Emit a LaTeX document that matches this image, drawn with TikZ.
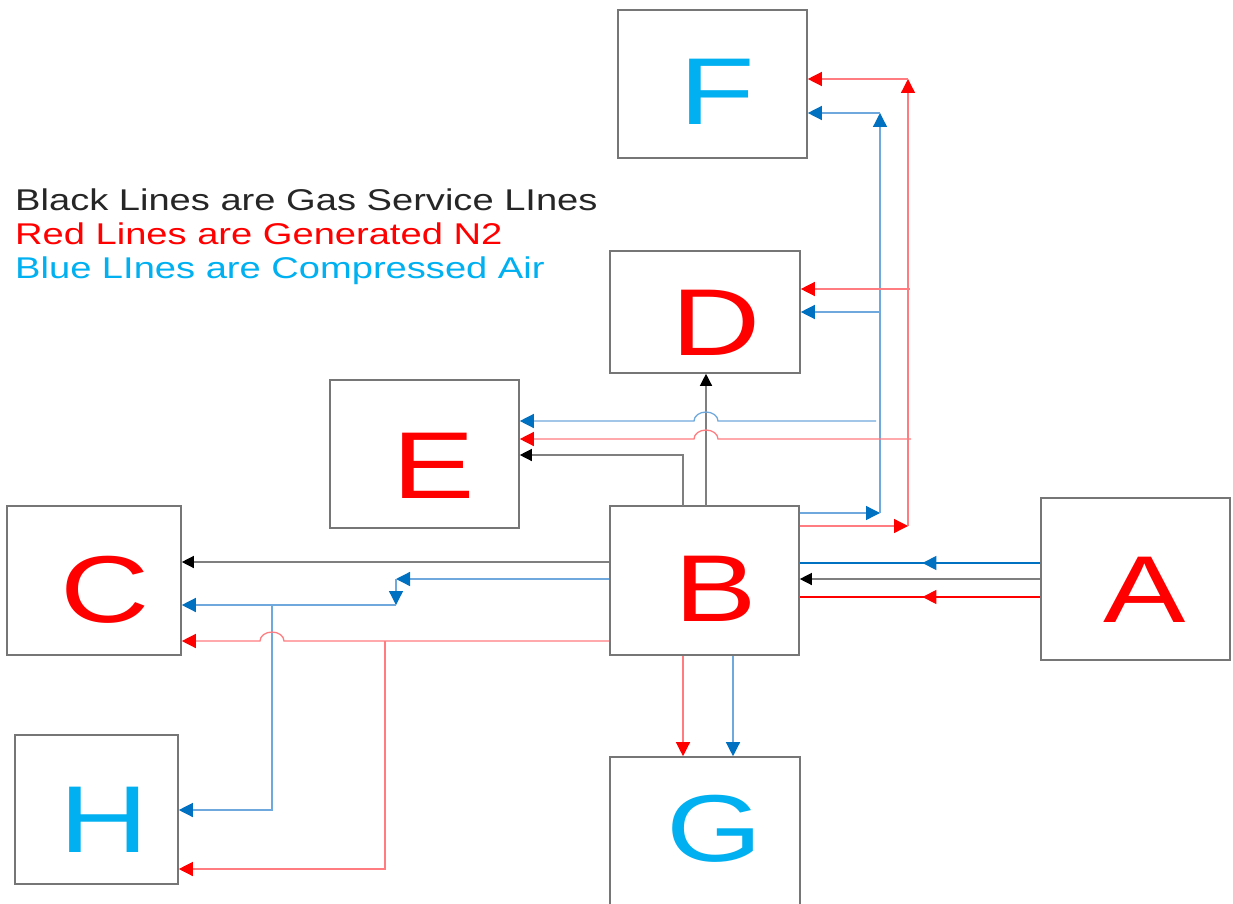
\documentclass[tikz,border=0pt]{standalone}
\usepackage{fontspec}
\setmainfont{Liberation Sans}
\newfontfamily\legfont[FakeStretch=1.27]{Liberation Sans}
\newfontfamily\letfont[FakeStretch=1.3]{Liberation Sans}
\usetikzlibrary{arrows.meta,decorations.markings,calc}
\definecolor{bxgray}{HTML}{767676}
\definecolor{redln}{HTML}{FF7C80}
\definecolor{redar}{HTML}{FF0000}
\definecolor{blueln}{HTML}{6FA8DC}
\definecolor{bluear}{HTML}{0070C0}
\definecolor{txtblue}{HTML}{00B0F0}
\definecolor{txtred}{HTML}{FF0000}
\definecolor{txtdark}{HTML}{262626}
\definecolor{grayln}{HTML}{7F7F7F}
\begin{document}
\begin{tikzpicture}[x=1pt,y=-1pt,
  box/.style={draw=bxgray,line width=1.6pt,rectangle,inner sep=0pt},
  lett/.style={anchor=base,inner sep=0pt,font=\letfont\fontsize{95}{95}\selectfont},
  redlet/.style={lett,text=txtred},
  bluelet/.style={lett,text=txtblue},
  leg/.style={anchor=base west,inner sep=0pt,font=\legfont\fontsize{30}{30}\selectfont},
  redc/.style={draw=redln,line width=1.3pt,-{Triangle[length=14pt,width=14pt,color=redar]}},
  bluec/.style={draw=blueln,line width=1.3pt,-{Triangle[length=14pt,width=14pt,color=bluear]}},
  blkc/.style={draw=grayln,line width=1.3pt,-{Triangle[length=12pt,width=12pt,color=black]}},
  midred/.style={draw=redar,line width=1.3pt,decoration={markings,mark=at position 0.49 with {\arrow{Triangle[length=14pt,width=14pt,color=redar]}}},postaction={decorate}},
  midblue/.style={draw=bluear,line width=1.3pt,decoration={markings,mark=at position 0.49 with {\arrow{Triangle[length=14pt,width=14pt,color=bluear]}}},postaction={decorate}}
]
\useasboundingbox (0,0) rectangle (1233,904);
\fill[white] (0,0) rectangle (1233,904);

% boxes
\node[box,minimum width=189pt,minimum height=148pt] (F) at (712.5,84) {};
\node[box,minimum width=190pt,minimum height=122pt] (D) at (705,312) {};
\node[box,minimum width=189pt,minimum height=148pt] (E) at (424.5,454) {};
\node[box,minimum width=174pt,minimum height=149pt] (C) at (94,580.5) {};
\node[box,minimum width=189pt,minimum height=149pt] (B) at (704.5,580.5) {};
\node[box,minimum width=189pt,minimum height=162pt] (A) at (1135.5,579) {};
\node[box,minimum width=163pt,minimum height=149pt] (H) at (96.5,809.5) {};
\node[box,minimum width=190pt,minimum height=170pt] (G) at (705,842) {};

% letters
\node[bluelet] (Flab) at ($(F.center)+(5,41)$) {F};
\node[redlet] (Dlab) at ($(D.center)+(11,43)$) {D};
\node[redlet] (Elab) at ($(E.center)+(9,44)$) {E};
\node[redlet] (Clab) at ($(C.center)+(11,41.5)$) {C};
\node[redlet] (Blab) at ($(B.center)+(11.5,40.5)$) {B};
\node[redlet] (Alab) at ($(A.center)+(9.5,43)$) {A};
\node[bluelet] (Hlab) at ($(H.center)+(7.5,42.5)$) {H};
\node[bluelet] (Glab) at ($(G.center)+(9.5,19)$) {G};

% legend
\node[leg,text=txtdark] (L1) at (15,210) {Black Lines are Gas Service LInes};
\node[leg,text=txtred] (L2) at (15,244) {Red Lines are Generated N2};
\node[leg,text=txtblue] (L3) at (15,278) {Blue LInes are Compressed Air};

% helper coordinates
\coordinate (bd) at (706,506);   % black B->D
\coordinate (be) at (683,506);   % black B->E
\coordinate (beC) at (683,455);
\coordinate (yAblu) at (0,563);
\coordinate (yAblk) at (0,579);
\coordinate (yAred) at (0,597);
\coordinate (yBC) at (0,562);
\coordinate (bR) at (880,513);
\coordinate (bT) at (880,113);
\coordinate (bD) at (880,312);
\coordinate (bE) at (876,421);
\coordinate (rR) at (908,526);
\coordinate (rT) at (908,79);
\coordinate (rD) at (910,289);
\coordinate (rE) at (911,439);
\coordinate (bc1) at (396,579);
\coordinate (bc2) at (396,605);
\coordinate (bh) at (272,605);
\coordinate (bhy) at (0,810);
\coordinate (rcy) at (0,641);
\coordinate (rh) at (385,641);
\coordinate (rhy) at (0,869);
\coordinate (gr) at (683,0);
\coordinate (gb) at (733,0);

% A -> B
\draw[midblue] (A.west|-yAblu) -- (B.east|-yAblu);
\draw[blkc] (A.west|-yAblk) -- (B.east|-yAblk);
\draw[midred] (A.west|-yAred) -- (B.east|-yAred);

% black service lines
\draw[blkc] (B.west|-yBC) -- (C.east|-yBC);
\draw[blkc] (bd) -- (bd|-D.south);
\draw[blkc] (be) |- (E.east|-beC);

% blue to F, D, E
\draw[bluec] (B.east|-bR) -- (bR);
\draw[bluec] (bR) -- (bT);
\draw[bluec] (bT) -- (F.east|-bT);
\draw[bluec] (bD) -- (D.east|-bD);
\draw[bluec] (bE) -- ($(bd|-bE)+(12,0)$) arc[start angle=0,end angle=180,x radius=12pt,y radius=9pt] -- (E.east|-bE);

% red to F, D, E
\draw[redc] (B.east|-rR) -- (rR);
\draw[redc] (rR) -- (rT);
\draw[redc] (rT) -- (F.east|-rT);
\draw[redc] (rD) -- (D.east|-rD);
\draw[redc] (rE) -- ($(bd|-rE)+(12,0)$) arc[start angle=0,end angle=180,x radius=12pt,y radius=9pt] -- (E.east|-rE);

% blue to C and H
\draw[bluec] (B.west|-bc1) -- (bc1);
\draw[bluec] (bc1) -- (bc2);
\draw[bluec] (bc2) -- (C.east|-bc2);
\draw[bluec] (bh) |- (H.east|-bhy);

% red to C and H
\draw[redc] (B.west|-rcy) -- ($(bh|-rcy)+(12,0)$) arc[start angle=0,end angle=180,x radius=12pt,y radius=9pt] -- (C.east|-rcy);
\draw[redc] (rh) |- (H.east|-rhy);

% B -> G
\draw[redc] (B.south-|gr) -- (G.north-|gr);
\draw[bluec] (B.south-|gb) -- (G.north-|gb);
\end{tikzpicture}
\end{document}
